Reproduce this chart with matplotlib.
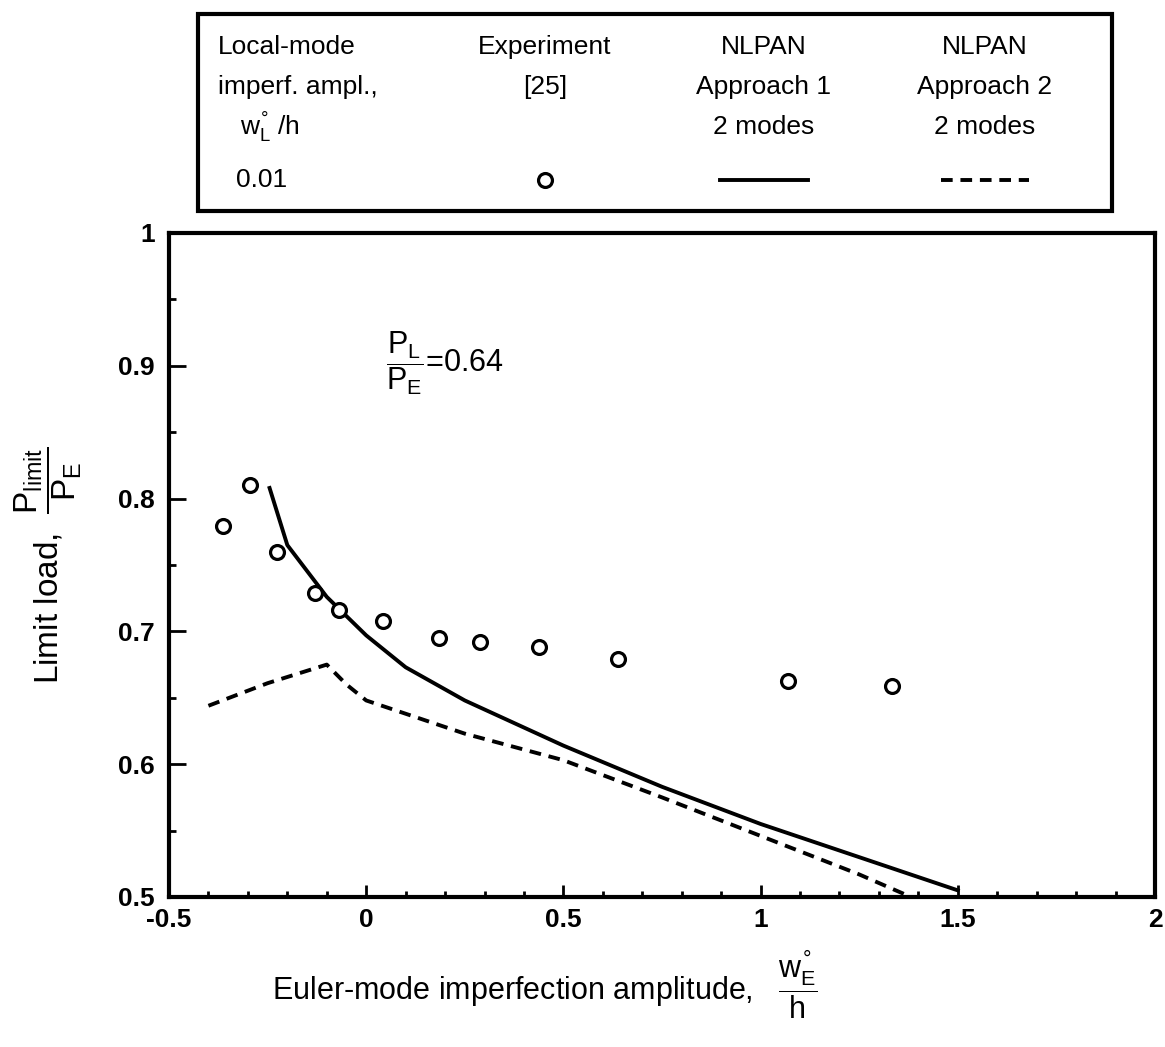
import numpy as np
from matplotlib import pyplot as plt
from matplotlib.patches import Rectangle
from matplotlib.lines import Line2D

params = {'font.family': 'Liberation Sans',
          'mathtext.fontset': 'custom',
          'mathtext.rm': 'Liberation Sans',
          'mathtext.it': 'Liberation Sans',
          'mathtext.bf': 'Liberation Sans:bold'}
plt.rcParams.update(params)

################################################################################
### Data
################################################################################

# Experiment [25]
exp_x = [-0.364, -0.295, -0.226, -0.131, -0.068, 0.043, 0.184, 0.288, 0.438, 0.638, 1.069, 1.332]
exp_y = [0.779, 0.810, 0.760, 0.729, 0.716, 0.708, 0.695, 0.692, 0.688, 0.679, 0.663, 0.659]

# NLPAN approach 1, 2 modes (solid)
app1_x = [-0.245, -0.2, -0.1, 0.0, 0.1, 0.25, 0.5, 0.75, 1.0, 1.25, 1.5]
app1_y = [0.808, 0.765, 0.726, 0.697, 0.673, 0.648, 0.614, 0.583, 0.555, 0.530, 0.505]

# NLPAN approach 2, 2 modes (dashed)
app2_x = [-0.4, -0.25, -0.1, -0.05, 0.0, 0.25, 0.5, 0.75, 1.0, 1.25, 1.42]
app2_y = [0.644, 0.661, 0.675, 0.660, 0.648, 0.623, 0.603, 0.575, 0.546, 0.517, 0.495]

xticks = [-0.5, 0, 0.5, 1, 1.5, 2]
xticklabels = ['-0.5', '0', '0.5', '1', '1.5', '2']
yticks = [0.5, 0.6, 0.7, 0.8, 0.9, 1.0]
yticklabels = ['0.5', '0.6', '0.7', '0.8', '0.9', '1']

################################################################################
### Plotting
################################################################################

W, H = 1165, 1047
fig = plt.figure(figsize=(W / 100, H / 100), dpi=100)

ax = fig.add_axes([169 / W, 1 - 897 / H, (1155 - 169) / W, (897 - 233) / H])

ax.plot(app1_x, app1_y, color='black', lw=2.8)
ax.plot(app2_x, app2_y, color='black', lw=2.8, ls=(0, (3, 2)))
ax.plot(exp_x, exp_y, ls='none', marker='o', ms=10, mfc='white', mec='black', mew=2.3)

ax.set_xlim(-0.5, 2)
ax.set_ylim(0.5, 1)
ax.set_xticks(xticks)
ax.set_xticklabels(xticklabels)
ax.set_yticks(yticks)
ax.set_yticklabels(yticklabels)
ax.set_xticks(np.arange(-0.5, 2.01, 0.1), minor=True)
ax.set_yticks(np.arange(0.55, 1.0, 0.1), minor=True)

ax.tick_params(axis='both', which='both', direction='in', labelsize=19, width=2)
ax.tick_params(axis='x', which='major', length=9, pad=8)
ax.tick_params(axis='x', which='minor', length=4)
ax.tick_params(axis='y', which='major', length=12, pad=10)
ax.tick_params(axis='y', which='minor', length=5)
for lab in ax.get_xticklabels() + ax.get_yticklabels():
    lab.set_fontweight('bold')
for s in ax.spines.values():
    s.set_linewidth(3)

ax.text(0.05, 0.902, r'$\dfrac{P_L}{P_E}$=0.64', fontsize=22, va='center')

# axis labels
fig.text(48 / W, 1 - 565 / H, r'Limit load,  $\dfrac{P_{limit}}{P_E}$', rotation=90,
         fontsize=24, ha='center', va='center')
fig.text(545 / W, 1 - 985 / H, r'Euler-mode imperfection amplitude,   $\dfrac{w^{°}_{E}}{h}$',
         fontsize=22, ha='center', va='center')

################################################################################
### Legend box drawn as a table at the top
################################################################################

fig.patches.append(Rectangle((198 / W, 1 - 211 / H), 914 / W, 197 / H, transform=fig.transFigure,
                             fill=False, lw=3, ec='black'))

rows = [47, 87, 127, 180]
fs = 19
def ty(py):
    return 1 - py / H

fig.text(218 / W, ty(rows[0]), 'Local-mode', fontsize=fs, va='center')
fig.text(218 / W, ty(rows[1]), 'imperf. ampl.,', fontsize=fs, va='center')
fig.text(240 / W, ty(rows[2]), r'$w^{°}_{L}$ /h', fontsize=fs, va='center')
fig.text(262 / W, ty(rows[3]), '0.01', fontsize=fs, va='center', ha='center')

fig.text(545 / W, ty(rows[0]), 'Experiment', fontsize=fs, va='center', ha='center')
fig.text(545 / W, ty(rows[1]), '[25]', fontsize=fs, va='center', ha='center')
fig.lines.append(Line2D([545 / W], [ty(rows[3])], transform=fig.transFigure, ls='none',
                        marker='o', ms=10, mfc='white', mec='black', mew=2.3))

for cx, txt, dash in [(764, 'Approach 1', '-'), (985, 'Approach 2', (0, (3, 2)))]:
    fig.text(cx / W, ty(rows[0]), 'NLPAN', fontsize=fs, va='center', ha='center')
    fig.text(cx / W, ty(rows[1]), txt, fontsize=fs, va='center', ha='center')
    fig.text(cx / W, ty(rows[2]), '2 modes', fontsize=fs, va='center', ha='center')
    fig.lines.append(Line2D([(cx - 44) / W, (cx + 44) / W], [ty(rows[3]), ty(rows[3])],
                            transform=fig.transFigure, color='black', lw=2.8, ls=dash))

fig.savefig('out.png', dpi=100)
